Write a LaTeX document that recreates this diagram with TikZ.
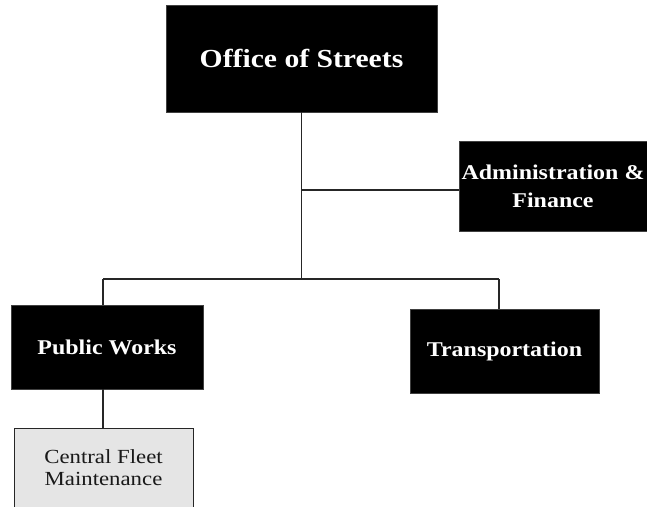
\documentclass[tikz,border=0pt]{standalone}
\usepackage{fontspec}
\setmainfont{Liberation Serif}[FakeStretch=1.14]
\begin{document}
\begin{tikzpicture}[x=1pt,y=-1pt,
  darkbox/.style={rectangle,fill=black,draw=black!75,line width=0.8pt,text=white,
    font=\fontsize{21}{28}\selectfont\bfseries,align=center,inner sep=0pt},
  lightbox/.style={rectangle,fill=black!10,draw=black!85,line width=0.8pt,text=black!90,
    font=\fontsize{20}{22}\selectfont,align=center,inner sep=0pt},
  conn/.style={draw=black!85,line width=1.2pt}]
\useasboundingbox (0,0) rectangle (647,506);
\clip (0,0) rectangle (647,506);
\node[darkbox,minimum width=271pt,minimum height=107pt,font=\fontsize{26}{30}\selectfont\bfseries] (office) at (301.5,58.5) {Office of Streets};
\node[darkbox,minimum width=188pt,minimum height=90pt] (admin) at (553,186) {Administration \&\\Finance};
\node[darkbox,minimum width=192pt,minimum height=84pt] (pw) at (107,347) {Public Works};
\node[darkbox,minimum width=189pt,minimum height=84pt] (trans) at (504.5,351) {Transportation};
\node[lightbox,minimum width=179pt,minimum height=80pt] (cfm) at (103.5,468) {Central Fleet\\Maintenance};
\coordinate (ja) at (301.5,190);
\coordinate (jl) at (103,279);
\coordinate (jm) at (301.5,279);
\coordinate (jr) at (499,279);
\draw[conn] (office.south) -- (jm);
\draw[conn] (ja) -- (ja -| admin.west);
\draw[conn] (jl) -- (jr);
\draw[conn] (jl) -- (jl |- pw.north);
\draw[conn] (jr) -- (jr |- trans.north);
\draw[conn] (cfm.north -| jl) -- (pw.south -| jl);
\end{tikzpicture}
\end{document}
